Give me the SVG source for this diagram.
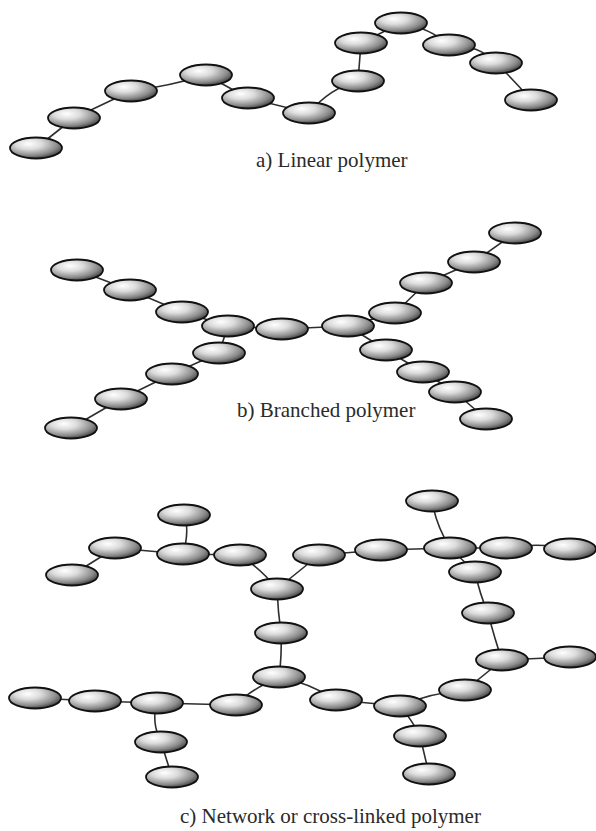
<svg xmlns="http://www.w3.org/2000/svg" width="596" height="831" viewBox="0 0 596 831">
  <defs>
    <radialGradient id="shade" cx="0.38" cy="0.32" r="0.72" fx="0.36" fy="0.3">
      <stop offset="0" stop-color="#ffffff"/>
      <stop offset="0.35" stop-color="#dcdcdc"/>
      <stop offset="0.75" stop-color="#8a8a8a"/>
      <stop offset="1" stop-color="#3a3a3a"/>
    </radialGradient>
  </defs>
  <style>
    .bead { fill: url(#shade); stroke: #111; stroke-width: 1.8; }
    .bond { fill: none; stroke: #2e2e2e; stroke-width: 1.6; stroke-linecap: round; }
    .label { font-family: "Liberation Serif", "Times New Roman", serif; font-size: 21px; fill: #2a2a2a; }
  </style>
  <rect width="596" height="831" fill="#ffffff"/>

  <!-- bonds -->
  <g id="connectors">
    <!-- a) linear chain -->
    <path class="bond" d="M36 148 L74 118"/>
    <path class="bond" d="M74 118 L131 91"/>
    <path class="bond" d="M131 91 Q170 86 206 75"/>
    <path class="bond" d="M206 75 L248 98"/>
    <path class="bond" d="M248 98 L309 113"/>
    <path class="bond" d="M309 113 Q330 88 358 81"/>
    <path class="bond" d="M358 81 L361 43"/>
    <path class="bond" d="M361 43 L401 23"/>
    <path class="bond" d="M401 23 Q430 28 449 45"/>
    <path class="bond" d="M449 45 Q480 45 496 63"/>
    <path class="bond" d="M496 63 Q514 80 531 100"/>
    <!-- b) branched chain -->
    <path class="bond" d="M77 270 L130 290"/>
    <path class="bond" d="M130 290 L182 312"/>
    <path class="bond" d="M182 312 L228 326"/>
    <path class="bond" d="M228 326 L282 329"/>
    <path class="bond" d="M282 329 L348 326"/>
    <path class="bond" d="M348 326 L395 313"/>
    <path class="bond" d="M395 313 L426 283"/>
    <path class="bond" d="M426 283 L474 262"/>
    <path class="bond" d="M474 262 L515 233"/>
    <path class="bond" d="M348 326 L386 350"/>
    <path class="bond" d="M386 350 L423 372"/>
    <path class="bond" d="M423 372 L455 392"/>
    <path class="bond" d="M455 392 L486 419"/>
    <path class="bond" d="M228 326 L219 353"/>
    <path class="bond" d="M219 353 L172 374"/>
    <path class="bond" d="M172 374 L121 399"/>
    <path class="bond" d="M121 399 L71 428"/>
    <!-- c) network -->
    <path class="bond" d="M184 515 Q190 530 183 554"/>
    <path class="bond" d="M115 548 L72 575"/>
    <path class="bond" d="M115 548 L183 554"/>
    <path class="bond" d="M183 554 L240 555"/>
    <path class="bond" d="M240 555 Q262 570 277 589"/>
    <path class="bond" d="M277 589 L319 555"/>
    <path class="bond" d="M277 589 Q278 612 281 633"/>
    <path class="bond" d="M281 633 Q282 655 279 677"/>
    <path class="bond" d="M319 555 L381 550"/>
    <path class="bond" d="M381 550 L450 548"/>
    <path class="bond" d="M450 548 Q436 525 432 501"/>
    <path class="bond" d="M450 548 L506 548"/>
    <path class="bond" d="M506 548 Q540 542 570 549"/>
    <path class="bond" d="M450 548 L475 572"/>
    <path class="bond" d="M475 572 Q480 595 488 613"/>
    <path class="bond" d="M488 613 Q495 640 502 660"/>
    <path class="bond" d="M502 660 L570 657"/>
    <path class="bond" d="M502 660 Q488 672 465 690"/>
    <path class="bond" d="M465 690 Q430 693 400 706"/>
    <path class="bond" d="M400 706 L336 700"/>
    <path class="bond" d="M336 700 Q310 683 279 677"/>
    <path class="bond" d="M279 677 Q250 690 236 705"/>
    <path class="bond" d="M236 705 L157 703"/>
    <path class="bond" d="M157 703 L95 701"/>
    <path class="bond" d="M95 701 L35 698"/>
    <path class="bond" d="M157 703 Q151 722 161 742"/>
    <path class="bond" d="M161 742 L172 777"/>
    <path class="bond" d="M400 706 Q412 720 420 736"/>
    <path class="bond" d="M420 736 L429 774"/>
  </g>

  <!-- a) linear polymer beads -->
  <g id="a1"><ellipse class="bead" cx="36" cy="148" rx="26" ry="10.5"/></g>
  <g id="a2"><ellipse class="bead" cx="74" cy="118" rx="26" ry="10.5"/></g>
  <g id="a3"><ellipse class="bead" cx="131" cy="91" rx="26" ry="10.5"/></g>
  <g id="a4"><ellipse class="bead" cx="206" cy="75" rx="26" ry="10.5"/></g>
  <g id="a5"><ellipse class="bead" cx="248" cy="98" rx="26" ry="10.5"/></g>
  <g id="a6"><ellipse class="bead" cx="309" cy="113" rx="26" ry="10.5"/></g>
  <g id="a7"><ellipse class="bead" cx="358" cy="81" rx="26" ry="10.5"/></g>
  <g id="a8"><ellipse class="bead" cx="361" cy="43" rx="26" ry="10.5"/></g>
  <g id="a9"><ellipse class="bead" cx="401" cy="23" rx="26" ry="10.5"/></g>
  <g id="a10"><ellipse class="bead" cx="449" cy="45" rx="26" ry="10.5"/></g>
  <g id="a11"><ellipse class="bead" cx="496" cy="63" rx="26" ry="10.5"/></g>
  <g id="a12"><ellipse class="bead" cx="531" cy="100" rx="26" ry="10.5"/></g>
  <text class="label" x="256" y="167">a) Linear polymer</text>

  <!-- b) branched polymer beads -->
  <g id="b1"><ellipse class="bead" cx="77" cy="270" rx="26" ry="10.5"/></g>
  <g id="b2"><ellipse class="bead" cx="130" cy="290" rx="26" ry="10.5"/></g>
  <g id="b3"><ellipse class="bead" cx="182" cy="312" rx="26" ry="10.5"/></g>
  <g id="b4"><ellipse class="bead" cx="228" cy="326" rx="26" ry="10.5"/></g>
  <g id="b5"><ellipse class="bead" cx="282" cy="329" rx="26" ry="10.5"/></g>
  <g id="b6"><ellipse class="bead" cx="348" cy="326" rx="26" ry="10.5"/></g>
  <g id="b7"><ellipse class="bead" cx="395" cy="313" rx="26" ry="10.5"/></g>
  <g id="b8"><ellipse class="bead" cx="426" cy="283" rx="26" ry="10.5"/></g>
  <g id="b9"><ellipse class="bead" cx="474" cy="262" rx="26" ry="10.5"/></g>
  <g id="b10"><ellipse class="bead" cx="515" cy="233" rx="26" ry="10.5"/></g>
  <g id="b11"><ellipse class="bead" cx="386" cy="350" rx="26" ry="10.5"/></g>
  <g id="b12"><ellipse class="bead" cx="423" cy="372" rx="26" ry="10.5"/></g>
  <g id="b13"><ellipse class="bead" cx="455" cy="392" rx="26" ry="10.5"/></g>
  <g id="b14"><ellipse class="bead" cx="486" cy="419" rx="26" ry="10.5"/></g>
  <g id="b15"><ellipse class="bead" cx="219" cy="353" rx="26" ry="10.5"/></g>
  <g id="b16"><ellipse class="bead" cx="172" cy="374" rx="26" ry="10.5"/></g>
  <g id="b17"><ellipse class="bead" cx="121" cy="399" rx="26" ry="10.5"/></g>
  <g id="b18"><ellipse class="bead" cx="71" cy="428" rx="26" ry="10.5"/></g>
  <text class="label" x="237" y="417">b) Branched polymer</text>

  <!-- c) network beads -->
  <g id="c1"><ellipse class="bead" cx="184" cy="515" rx="26" ry="10.5"/></g>
  <g id="c2"><ellipse class="bead" cx="115" cy="548" rx="26" ry="10.5"/></g>
  <g id="c3"><ellipse class="bead" cx="72" cy="575" rx="26" ry="10.5"/></g>
  <g id="c4"><ellipse class="bead" cx="183" cy="554" rx="26" ry="10.5"/></g>
  <g id="c5"><ellipse class="bead" cx="240" cy="555" rx="26" ry="10.5"/></g>
  <g id="c6"><ellipse class="bead" cx="277" cy="589" rx="26" ry="10.5"/></g>
  <g id="c7"><ellipse class="bead" cx="281" cy="633" rx="26" ry="10.5"/></g>
  <g id="c8"><ellipse class="bead" cx="279" cy="677" rx="26" ry="10.5"/></g>
  <g id="c9"><ellipse class="bead" cx="319" cy="555" rx="26" ry="10.5"/></g>
  <g id="c10"><ellipse class="bead" cx="381" cy="550" rx="26" ry="10.5"/></g>
  <g id="c11"><ellipse class="bead" cx="450" cy="548" rx="26" ry="10.5"/></g>
  <g id="c12"><ellipse class="bead" cx="432" cy="501" rx="26" ry="10.5"/></g>
  <g id="c13"><ellipse class="bead" cx="506" cy="548" rx="26" ry="10.5"/></g>
  <g id="c14"><ellipse class="bead" cx="570" cy="549" rx="26" ry="10.5"/></g>
  <g id="c15"><ellipse class="bead" cx="475" cy="572" rx="26" ry="10.5"/></g>
  <g id="c16"><ellipse class="bead" cx="488" cy="613" rx="26" ry="10.5"/></g>
  <g id="c17"><ellipse class="bead" cx="502" cy="660" rx="26" ry="10.5"/></g>
  <g id="c18"><ellipse class="bead" cx="570" cy="657" rx="26" ry="10.5"/></g>
  <g id="c19"><ellipse class="bead" cx="35" cy="698" rx="26" ry="10.5"/></g>
  <g id="c20"><ellipse class="bead" cx="95" cy="701" rx="26" ry="10.5"/></g>
  <g id="c21"><ellipse class="bead" cx="157" cy="703" rx="26" ry="10.5"/></g>
  <g id="c22"><ellipse class="bead" cx="236" cy="705" rx="26" ry="10.5"/></g>
  <g id="c23"><ellipse class="bead" cx="161" cy="742" rx="26" ry="10.5"/></g>
  <g id="c24"><ellipse class="bead" cx="172" cy="777" rx="26" ry="10.5"/></g>
  <g id="c25"><ellipse class="bead" cx="336" cy="700" rx="26" ry="10.5"/></g>
  <g id="c26"><ellipse class="bead" cx="400" cy="706" rx="26" ry="10.5"/></g>
  <g id="c27"><ellipse class="bead" cx="465" cy="690" rx="26" ry="10.5"/></g>
  <g id="c28"><ellipse class="bead" cx="420" cy="736" rx="26" ry="10.5"/></g>
  <g id="c29"><ellipse class="bead" cx="429" cy="774" rx="26" ry="10.5"/></g>
  <text class="label" x="180" y="823">c) Network or cross-linked polymer</text>
</svg>
